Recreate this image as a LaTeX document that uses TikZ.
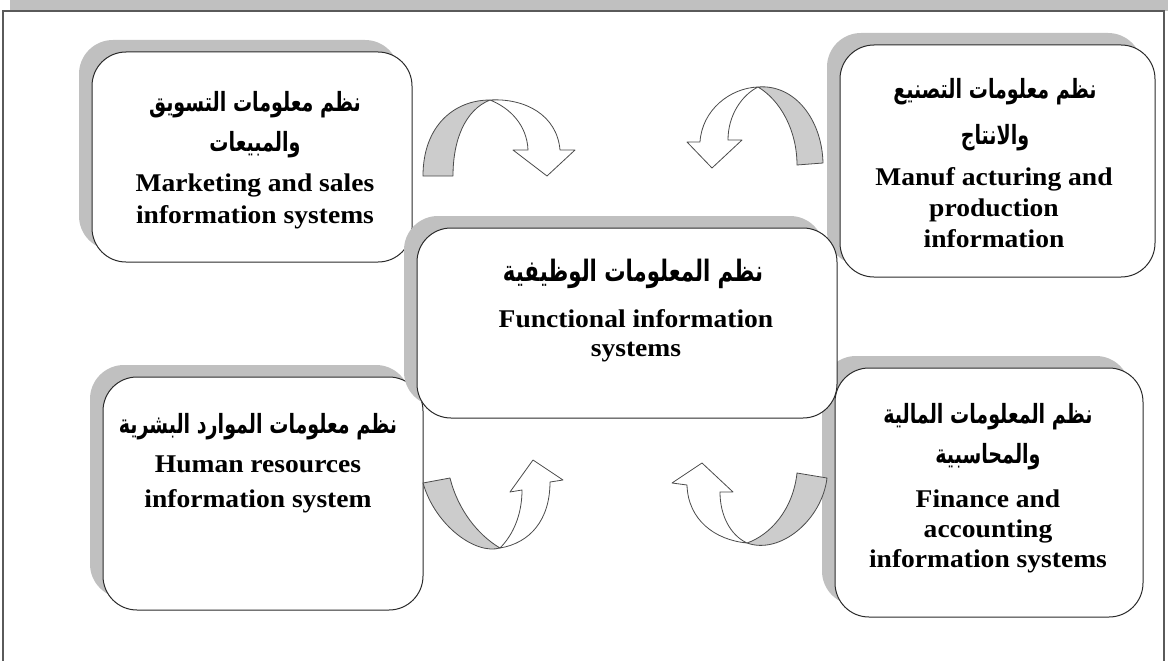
\documentclass[tikz,border=0pt]{standalone}
\usepackage{fontspec}
\setmainfont{Liberation Serif}[FakeStretch=1.08]
\newfontfamily\arabicfont[Script=Arabic, FakeStretch=0.72]{DejaVu Sans}
\TeXXeTstate=1
\usetikzlibrary{shadows}
\definecolor{shadegray}{HTML}{C0C0C0}
\definecolor{ribbongray}{HTML}{CCCCCC}
\definecolor{edge}{HTML}{2B2B2B}
\definecolor{framegray}{HTML}{5A5A5A}
\newcommand{\artxt}[1]{{\arabicfont\bfseries\beginR #1\endR}}

\begin{document}
\begin{tikzpicture}[x=1pt,y=-1pt,
  panel/.style={draw=edge, line width=1pt, fill=white, rounded corners=34pt,
    drop shadow={shadow xshift=-13pt, shadow yshift=12pt, fill=shadegray, opacity=1}},
  entext/.style={anchor=base, inner sep=0pt, font=\fontsize{25.5}{30}\selectfont\bfseries},
  artext/.style={anchor=base, inner sep=0pt, font=\fontsize{26.5}{30}\selectfont},
  bigartext/.style={artext, font=\fontsize{29.5}{33}\selectfont},
  ribbonback/.style={fill=ribbongray, draw=edge!85, line width=0.8pt, line join=round},
  ribbonfront/.style={fill=white, draw=edge!85, line width=0.8pt, line join=round}]

\useasboundingbox (0,0) rectangle (1168,661);
\fill[white] (0,0) rectangle (1168,661);

% outer frame with its shaded band along the top
\fill[shadegray] (10,0) rectangle (1168,11);
\draw[framegray, line width=1.5pt] (3,661) -- (3,11) -- (1164,11) -- (1164,661);

% the five panels
\node[panel, minimum width=320pt, minimum height=210pt] (mkt) at (252,157) {};
\node[panel, minimum width=315pt, minimum height=232pt] (man) at (997.5,161) {};
\node[panel, minimum width=320pt, minimum height=233pt] (hr)  at (263,493.5) {};
\node[panel, minimum width=308pt, minimum height=249pt] (fin) at (989,492.5) {};
\node[panel, minimum width=420pt, minimum height=190pt] (fun) at (627,323) {};

% curved ribbon arrows: shaded back face, then white front face with head
\draw[ribbonback] (423,176) .. controls (423,125) and (455,100) .. (490,100)
  .. controls (465,110) and (453,140) .. (453,176) -- cycle;
\draw[ribbonfront] (490,100) .. controls (525,98) and (557,115) .. (560,150)
  -- (575,150) -- (547,176) -- (513,150) -- (528,150)
  .. controls (527,125) and (510,108) .. (490,100) -- cycle;

\draw[ribbonback] (823,163) .. controls (822,120) and (795,84) .. (758,87)
  .. controls (780,100) and (797,130) .. (797,165) -- cycle;
\draw[ribbonfront] (758,87) .. controls (730,88) and (702,110) .. (700,142)
  -- (687,142) -- (712,168) -- (742,140) -- (728,140)
  .. controls (728,115) and (742,95) .. (758,87) -- cycle;

\draw[ribbonback] (423,483) .. controls (435,525) and (475,555) .. (500,548)
  .. controls (478,535) and (458,510) .. (450,478) -- cycle;
\draw[ribbonfront] (500,548) .. controls (530,543) and (550,520) .. (550,482)
  -- (563,480) -- (533,460) -- (510,492) -- (522,490)
  .. controls (522,515) and (513,535) .. (500,548) -- cycle;

\draw[ribbonback] (827,478) .. controls (822,520) and (780,555) .. (747,543)
  .. controls (770,535) and (793,510) .. (797,473) -- cycle;
\draw[ribbonfront] (747,543) .. controls (715,540) and (688,520) .. (687,485)
  -- (672,483) -- (702,463) -- (733,492) -- (720,492)
  .. controls (720,515) and (730,535) .. (747,543) -- cycle;

% marketing and sales
\node[artext] (mkta1) at (255,111) {\artxt{نظم معلومات التسويق}};
\node[artext] (mkta2) at (255,151) {\artxt{والمبيعات}};
\node[entext] (mkte1) at (255,191) {Marketing and sales};
\node[entext] (mkte2) at (255,223) {information systems};

% manufacturing and production
\node[artext] (mana1) at (995,99) {\artxt{نظم معلومات التصنيع}};
\node[artext] (mana2) at (995,144) {\artxt{والانتاج}};
\node[entext] (mane1) at (994,185) {Manuf acturing and};
\node[entext] (mane2) at (994,216) {production};
\node[entext] (mane3) at (994,247) {information};

% functional information systems
\node[bigartext] (funa1) at (633,281) {\artxt{نظم المعلومات الوظيفية}};
\node[entext] (fune1) at (636,327) {Functional information};
\node[entext] (fune2) at (636,356) {systems};

% human resources
\node[artext] (hra1) at (258,433) {\artxt{نظم معلومات الموارد البشرية}};
\node[entext] (hre1) at (258,472) {Human resources};
\node[entext] (hre2) at (258,507) {information system};

% finance and accounting
\node[artext] (fina1) at (988,423) {\artxt{نظم المعلومات المالية}};
\node[artext] (fina2) at (988,463) {\artxt{والمحاسبية}};
\node[entext] (fine1) at (988,507) {Finance and};
\node[entext] (fine2) at (988,537) {accounting};
\node[entext] (fine3) at (988,567) {information systems};
\end{tikzpicture}
\end{document}
